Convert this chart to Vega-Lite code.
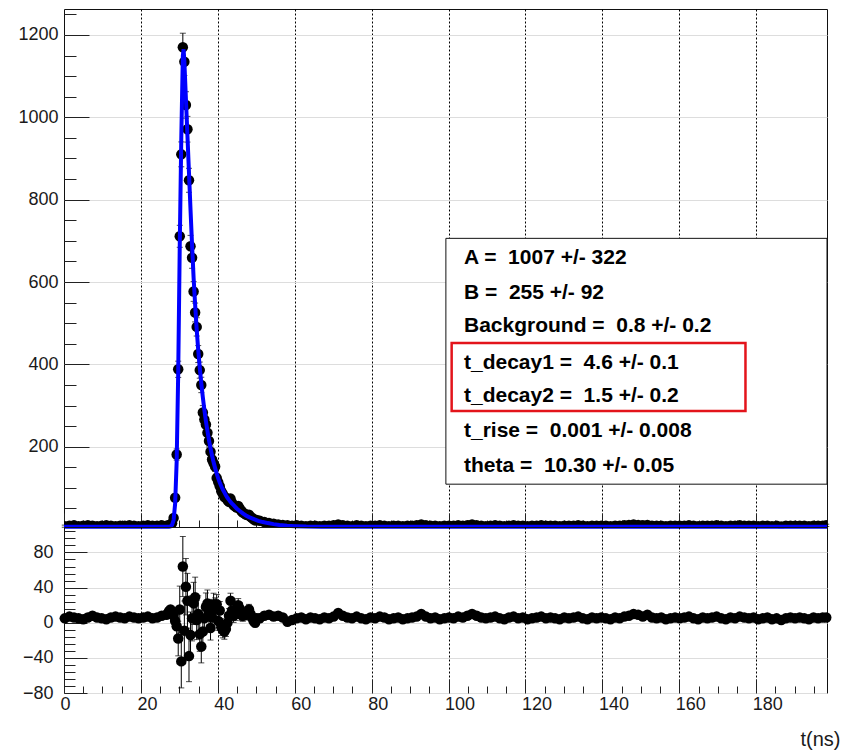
{
  "$schema": "https://vega.github.io/schema/vega-lite/v6.json",
  "background": "white",
  "padding": {"left": 17, "top": 8, "right": 0, "bottom": 0},
  "spacing": 0,
  "bounds": "flush",
  "config": {
    "view": {"stroke": "#111", "strokeWidth": 1},
    "font": "Liberation Sans",
    "axis": {"labelFont": "Liberation Sans", "labelFontSize": 18, "labelColor": "#1a1a1a", "tickColor": "#222", "tickWidth": 1, "domain": false, "labelOverlap": false, "labelFlush": false}
  },
  "datasets": {
    "pts": [
      {"t":0.2,"v":7,"e":2.6,"r":5},{"t":1.4,"v":8,"e":2.8,"r":7},{"t":2.6,"v":9,"e":3,"r":6},{"t":3.8,"v":7,"e":2.6,"r":5},
      {"t":5.0,"v":8,"e":2.8,"r":4},{"t":6.2,"v":9,"e":3,"r":6},{"t":7.4,"v":8,"e":2.8,"r":8},{"t":8.6,"v":7,"e":2.6,"r":6},
      {"t":9.8,"v":8,"e":2.8,"r":5},{"t":11.0,"v":9,"e":3,"r":4},{"t":12.2,"v":8,"e":2.8,"r":6},{"t":13.4,"v":7,"e":2.6,"r":7},
      {"t":14.6,"v":8,"e":2.8,"r":6},{"t":15.8,"v":8,"e":2.8,"r":5},{"t":17.0,"v":9,"e":3,"r":7},{"t":18.2,"v":8,"e":2.8,"r":6},
      {"t":19.4,"v":7,"e":2.6,"r":5},{"t":20.6,"v":8,"e":2.8,"r":6},{"t":21.8,"v":9,"e":3,"r":7},{"t":23.0,"v":8,"e":2.8,"r":5},
      {"t":24.2,"v":8,"e":2.8,"r":6},{"t":25.4,"v":9,"e":3,"r":8},{"t":26.6,"v":8,"e":2.8,"r":9},
      {"t":26.9,"v":8,"e":2.8,"r":10},{"t":27.3,"v":9,"e":3,"r":13},{"t":27.7,"v":11,"e":3.3,"r":15},{"t":28.1,"v":14,"e":3.7,"r":12},
      {"t":28.5,"v":27,"e":5.2,"r":8},{"t":28.9,"v":76,"e":8.7,"r":2},{"t":29.3,"v":181,"e":13.5,"r":-4},{"t":29.7,"v":388,"e":19.7,"r":-18},
      {"t":30.1,"v":711,"e":26.7,"r":15},{"t":30.5,"v":910,"e":30.2,"r":-44},{"t":30.9,"v":1170,"e":34.2,"r":64},{"t":31.3,"v":1135,"e":33.7,"r":-9},
      {"t":31.7,"v":1030,"e":32.1,"r":41},{"t":32.1,"v":971,"e":31.2,"r":25},{"t":32.5,"v":847,"e":29.1,"r":-38},{"t":32.9,"v":687,"e":26.2,"r":-14},
      {"t":33.3,"v":659,"e":25.7,"r":5},{"t":33.7,"v":577,"e":24,"r":22},{"t":34.1,"v":526,"e":22.9,"r":29},{"t":34.5,"v":491,"e":22.2,"r":3},
      {"t":34.9,"v":425,"e":20.6,"r":10},{"t":35.3,"v":386,"e":19.6,"r":-13},{"t":35.7,"v":350,"e":18.7,"r":-27},{"t":36.1,"v":283,"e":16.8,"r":-10},
      {"t":36.5,"v":266,"e":16.3,"r":5},{"t":36.9,"v":254,"e":15.9,"r":18},{"t":37.3,"v":234,"e":15.3,"r":22},{"t":37.7,"v":214,"e":14.6,"r":12},
      {"t":38.1,"v":188,"e":13.7,"r":-6},{"t":38.5,"v":169,"e":13,"r":6},{"t":38.9,"v":160,"e":12.6,"r":21},{"t":39.3,"v":152,"e":12.3,"r":16},
      {"t":39.7,"v":124,"e":11.1,"r":21},{"t":40.1,"v":114,"e":10.7,"r":2},{"t":40.5,"v":104,"e":10.2,"r":14},{"t":40.9,"v":92,"e":9.6,"r":-5},
      {"t":41.3,"v":85,"e":9.2,"r":-8},{"t":41.7,"v":78,"e":8.8,"r":-10},{"t":42.1,"v":76,"e":8.7,"r":-7},{"t":42.5,"v":70,"e":8.4,"r":0},
      {"t":42.9,"v":66,"e":8.1,"r":8},{"t":43.3,"v":74,"e":8.6,"r":25},{"t":43.7,"v":64,"e":8,"r":14},{"t":44.1,"v":58,"e":7.6,"r":8},
      {"t":44.5,"v":55,"e":7.4,"r":10},{"t":44.9,"v":52,"e":7.2,"r":12},{"t":45.3,"v":56,"e":7.5,"r":20},{"t":45.7,"v":50,"e":7.1,"r":16},
      {"t":46.1,"v":44,"e":6.6,"r":9},{"t":46.5,"v":40,"e":6.3,"r":8},{"t":46.9,"v":38,"e":6.2,"r":10},{"t":47.3,"v":35,"e":5.9,"r":9},
      {"t":47.7,"v":34,"e":5.8,"r":12},{"t":48.1,"v":35,"e":5.9,"r":15},{"t":48.5,"v":30,"e":5.5,"r":10},{"t":48.9,"v":27,"e":5.2,"r":6},
      {"t":49.3,"v":24,"e":4.9,"r":2},{"t":49.7,"v":21,"e":4.6,"r":0},{"t":50.1,"v":22,"e":4.7,"r":5},
      {"t":50.9,"v":20,"e":4.5,"r":5},{"t":52.1,"v":17,"e":4.1,"r":8},{"t":53.3,"v":15,"e":3.9,"r":9},{"t":54.5,"v":13,"e":3.6,"r":7},
      {"t":55.7,"v":11,"e":3.3,"r":8},{"t":56.9,"v":10,"e":3.2,"r":6},{"t":58.1,"v":9,"e":3,"r":1},{"t":59.3,"v":8,"e":2.8,"r":3},
      {"t":60.5,"v":9,"e":2.8,"r":5},{"t":61.7,"v":8,"e":2.8,"r":6},{"t":62.9,"v":7,"e":2.8,"r":4},{"t":64.1,"v":8,"e":2.8,"r":6},
      {"t":65.3,"v":8,"e":2.8,"r":5},{"t":66.5,"v":7,"e":2.8,"r":4},{"t":67.7,"v":8,"e":2.8,"r":6},{"t":68.9,"v":8,"e":2.8,"r":5},
      {"t":70.1,"v":9,"e":2.8,"r":7},{"t":71.3,"v":11,"e":2.8,"r":11},{"t":72.5,"v":9,"e":2.8,"r":8},{"t":73.7,"v":8,"e":2.8,"r":6},
      {"t":74.9,"v":7,"e":2.8,"r":5},{"t":76.1,"v":9,"e":2.8,"r":7},{"t":77.3,"v":8,"e":2.8,"r":5},{"t":78.5,"v":7,"e":2.8,"r":4},
      {"t":79.7,"v":8,"e":2.8,"r":6},{"t":80.9,"v":8,"e":2.8,"r":5},{"t":82.1,"v":9,"e":2.8,"r":7},{"t":83.3,"v":8,"e":2.8,"r":6},
      {"t":84.5,"v":7,"e":2.8,"r":4},{"t":85.7,"v":8,"e":2.8,"r":5},{"t":86.9,"v":8,"e":2.8,"r":6},{"t":88.1,"v":7,"e":2.8,"r":4},
      {"t":89.3,"v":8,"e":2.8,"r":5},{"t":90.5,"v":8,"e":2.8,"r":6},{"t":91.7,"v":9,"e":2.8,"r":7},{"t":92.9,"v":11,"e":2.8,"r":10},
      {"t":94.1,"v":9,"e":2.8,"r":7},{"t":95.3,"v":8,"e":2.8,"r":5},{"t":96.5,"v":8,"e":2.8,"r":6},{"t":97.7,"v":7,"e":2.8,"r":4},
      {"t":98.9,"v":8,"e":2.8,"r":5},{"t":100.1,"v":8,"e":2.8,"r":6},{"t":101.3,"v":8,"e":2.8,"r":5},{"t":102.5,"v":9,"e":2.8,"r":7},
      {"t":103.7,"v":8,"e":2.8,"r":6},{"t":104.9,"v":9,"e":2.8,"r":8},{"t":106.1,"v":11,"e":2.8,"r":10},{"t":107.3,"v":9,"e":2.8,"r":8},
      {"t":108.5,"v":8,"e":2.8,"r":6},{"t":109.7,"v":7,"e":2.8,"r":5},{"t":110.9,"v":8,"e":2.8,"r":6},{"t":112.1,"v":9,"e":2.8,"r":7},
      {"t":113.3,"v":8,"e":2.8,"r":5},{"t":114.5,"v":7,"e":2.8,"r":4},{"t":115.7,"v":8,"e":2.8,"r":6},{"t":116.9,"v":9,"e":2.8,"r":7},
      {"t":118.1,"v":8,"e":2.8,"r":5},{"t":119.3,"v":8,"e":2.8,"r":6},{"t":120.5,"v":7,"e":2.8,"r":4},{"t":121.7,"v":8,"e":2.8,"r":5},
      {"t":122.9,"v":8,"e":2.8,"r":6},{"t":124.1,"v":9,"e":2.8,"r":7},{"t":125.3,"v":8,"e":2.8,"r":5},{"t":126.5,"v":8,"e":2.8,"r":6},
      {"t":127.7,"v":8,"e":2.8,"r":5},{"t":128.9,"v":7,"e":2.8,"r":4},{"t":130.1,"v":8,"e":2.8,"r":6},{"t":131.3,"v":8,"e":2.8,"r":5},
      {"t":132.5,"v":8,"e":2.8,"r":6},{"t":133.7,"v":9,"e":2.8,"r":7},{"t":134.9,"v":8,"e":2.8,"r":5},{"t":136.1,"v":7,"e":2.8,"r":4},
      {"t":137.3,"v":8,"e":2.8,"r":6},{"t":138.5,"v":8,"e":2.8,"r":5},{"t":139.7,"v":8,"e":2.8,"r":6},{"t":140.9,"v":8,"e":2.8,"r":5},
      {"t":142.1,"v":7,"e":2.8,"r":4},{"t":143.3,"v":8,"e":2.8,"r":6},{"t":144.5,"v":8,"e":2.8,"r":5},{"t":145.7,"v":9,"e":2.8,"r":7},
      {"t":146.9,"v":10,"e":2.8,"r":8},{"t":148.1,"v":11,"e":2.8,"r":10},{"t":149.3,"v":10,"e":2.8,"r":9},{"t":150.5,"v":9,"e":2.8,"r":7},
      {"t":151.7,"v":10,"e":2.8,"r":9},{"t":152.9,"v":8,"e":2.8,"r":6},{"t":154.1,"v":8,"e":2.8,"r":5},{"t":155.3,"v":8,"e":2.8,"r":6},
      {"t":156.5,"v":7,"e":2.8,"r":4},{"t":157.7,"v":8,"e":2.8,"r":5},{"t":158.9,"v":8,"e":2.8,"r":6},{"t":160.1,"v":8,"e":2.8,"r":5},
      {"t":161.3,"v":8,"e":2.8,"r":6},{"t":162.5,"v":9,"e":2.8,"r":7},{"t":163.7,"v":8,"e":2.8,"r":5},{"t":164.9,"v":7,"e":2.8,"r":4},
      {"t":166.1,"v":8,"e":2.8,"r":6},{"t":167.3,"v":8,"e":2.8,"r":5},{"t":168.5,"v":8,"e":2.8,"r":6},{"t":169.7,"v":9,"e":2.8,"r":7},
      {"t":170.9,"v":8,"e":2.8,"r":5},{"t":172.1,"v":7,"e":2.8,"r":4},{"t":173.3,"v":8,"e":2.8,"r":6},{"t":174.5,"v":8,"e":2.8,"r":5},
      {"t":175.7,"v":9,"e":2.8,"r":7},{"t":176.9,"v":8,"e":2.8,"r":6},{"t":178.1,"v":8,"e":2.8,"r":5},{"t":179.3,"v":8,"e":2.8,"r":6},
      {"t":180.5,"v":7,"e":2.8,"r":4},{"t":181.7,"v":8,"e":2.8,"r":5},{"t":182.9,"v":8,"e":2.8,"r":6},{"t":184.1,"v":7,"e":2.8,"r":4},
      {"t":185.3,"v":8,"e":2.8,"r":5},{"t":186.5,"v":6,"e":2.8,"r":3},{"t":187.7,"v":8,"e":2.8,"r":5},{"t":188.9,"v":8,"e":2.8,"r":6},
      {"t":190.1,"v":8,"e":2.8,"r":5},{"t":191.3,"v":8,"e":2.8,"r":6},{"t":192.5,"v":8,"e":2.8,"r":5},{"t":193.7,"v":7,"e":2.8,"r":4},
      {"t":194.9,"v":8,"e":2.8,"r":6},{"t":196.1,"v":8,"e":2.8,"r":5},{"t":197.3,"v":8,"e":2.8,"r":6},{"t":198.2,"v":9,"e":2.8,"r":6}
    ],
    "fit": [
      {"t":0,"f":5.5},{"t":26.9,"f":5.5},{"t":27.3,"f":5.6},{"t":27.7,"f":6.5},{"t":28.1,"f":10},{"t":28.5,"f":22},{"t":28.9,"f":62},
      {"t":29.3,"f":165},{"t":29.7,"f":380},{"t":30.1,"f":690},{"t":30.5,"f":950},{"t":30.9,"f":1150},{"t":31.1,"f":1165},{"t":31.3,"f":1135},
      {"t":31.7,"f":1045},{"t":32.1,"f":955},{"t":32.5,"f":865},{"t":32.9,"f":775},{"t":33.3,"f":690},{"t":33.7,"f":610},{"t":34.1,"f":545},
      {"t":34.5,"f":485},{"t":34.9,"f":435},{"t":35.3,"f":392},{"t":35.7,"f":354},{"t":36.1,"f":320},{"t":36.5,"f":290},{"t":36.9,"f":262},
      {"t":37.3,"f":238},{"t":37.7,"f":216},{"t":38.1,"f":196},{"t":38.5,"f":178},{"t":38.9,"f":162},{"t":39.3,"f":148},{"t":39.7,"f":135},
      {"t":40.1,"f":123},{"t":40.5,"f":113},{"t":40.9,"f":104},{"t":41.3,"f":96},{"t":41.7,"f":89},{"t":42.1,"f":82},{"t":42.5,"f":76},
      {"t":42.9,"f":71},{"t":43.3,"f":66},{"t":43.7,"f":62},{"t":44.1,"f":58},{"t":44.5,"f":54},{"t":44.9,"f":50},{"t":45.7,"f":44},
      {"t":46.5,"f":38},{"t":47.3,"f":33},{"t":48.1,"f":29},{"t":48.9,"f":26},{"t":49.7,"f":23},{"t":50.5,"f":20},{"t":51.7,"f":17},
      {"t":53,"f":14.5},{"t":54.5,"f":12},{"t":56,"f":10},{"t":58,"f":8},{"t":60,"f":7},{"t":63,"f":6},{"t":67,"f":5.5},{"t":198.4,"f":5.5}
    ],
    "par": [
      {"label":"A = \u00a01007 +/- 322","v":659},
      {"label":"B = \u00a0255 +/- 92","v":574},
      {"label":"Background = \u00a00.8 +/- 0.2","v":494},
      {"label":"t_decay1 = \u00a04.6 +/- 0.1","v":404},
      {"label":"t_decay2 = \u00a01.5 +/- 0.2","v":323},
      {"label":"t_rise = \u00a00.001 +/- 0.008","v":238},
      {"label":"theta = \u00a010.30 +/- 0.05","v":153}
    ]
  },
  "vconcat": [
    {
      "width": 763,
      "height": 518,
      "resolve": {"axis": {"x": "independent", "y": "independent"}},
      "layer": [
        {
          "data": {"name": "pts"},
          "mark": {"type": "errorbar", "color": "black", "thickness": 1, "ticks": {"size": 6, "color": "black"}},
          "encoding": {
            "x": {"field": "t", "type": "quantitative", "scale": {"domain": [0, 198.4], "nice": false, "zero": false},
                  "axis": {"orient": "bottom", "values": [20,40,60,80,100,120,140,160,180], "grid": true, "gridDash": [2,2], "gridColor": "#000", "gridOpacity": 1, "ticks": false, "labels": false, "title": null}},
            "y": {"field": "v", "type": "quantitative", "scale": {"domain": [5, 1263], "nice": false, "zero": false},
                  "axis": {"orient": "left", "values": [200,400,600,800,1000,1200], "format": "d", "tickSize": -25, "labelPadding": 31, "title": null}},
            "yError": {"field": "e"}
          }
        },
        {
          "data": {"name": "pts"},
          "mark": {"type": "circle", "size": 110, "color": "black", "opacity": 1, "clip": true},
          "encoding": {
            "x": {"field": "t", "type": "quantitative",
                  "axis": {"orient": "bottom", "values": [0,20,40,60,80,100,120,140,160,180], "tickSize": -14, "labels": false, "title": null}},
            "y": {"field": "v", "type": "quantitative",
                  "axis": {"orient": "left", "values": [50,100,150,200,250,300,350,400,450,500,550,600,650,700,750,800,850,900,950,1000,1050,1100,1150,1200,1250], "tickSize": -12, "labels": false, "title": null}}
          }
        },
        {
          "data": {"name": "fit"},
          "mark": {"type": "line", "color": "#0000ff", "strokeWidth": 4, "interpolate": "linear"},
          "encoding": {
            "x": {"field": "t", "type": "quantitative",
                  "axis": {"orient": "bottom", "values": [5,10,15,25,30,35,45,50,55,65,70,75,85,90,95,105,110,115,125,130,135,145,150,155,165,170,175,185,190,195], "tickSize": -7, "labels": false, "title": null}},
            "y": {"field": "f", "type": "quantitative", "axis": null}
          }
        },
        {
          "data": {"values": [{}]},
          "mark": {"type": "rect", "fill": "white", "stroke": "#111", "strokeWidth": 1},
          "encoding": {
            "x": {"datum": 99.3, "type": "quantitative", "axis": null},
            "x2": {"datum": 198.4},
            "y": {"datum": 109, "type": "quantitative", "axis": null},
            "y2": {"datum": 706}
          }
        },
        {
          "data": {"values": [{}]},
          "mark": {"type": "rect", "fill": "white", "fillOpacity": 0, "stroke": "#e3141b", "strokeWidth": 2.5},
          "encoding": {
            "x": {"datum": 100.8, "type": "quantitative", "axis": null},
            "x2": {"datum": 177.2},
            "y": {"datum": 287, "type": "quantitative", "axis": null},
            "y2": {"datum": 452}
          }
        },
        {
          "data": {"name": "par"},
          "mark": {"type": "text", "align": "left", "baseline": "middle", "font": "Liberation Sans", "fontWeight": "bold", "fontSize": 21, "color": "black"},
          "encoding": {
            "x": {"datum": 104, "type": "quantitative", "axis": null},
            "y": {"field": "v", "type": "quantitative", "axis": null},
            "text": {"field": "label"}
          }
        }
      ]
    },
    {
      "width": 763,
      "height": 166,
      "resolve": {"axis": {"x": "independent", "y": "independent"}},
      "layer": [
        {
          "data": {"name": "pts"},
          "mark": {"type": "errorbar", "color": "black", "thickness": 1, "ticks": {"size": 6, "color": "black"}},
          "encoding": {
            "x": {"field": "t", "type": "quantitative", "scale": {"domain": [0, 198.4], "nice": false, "zero": false},
                  "axis": {"orient": "bottom", "values": [20,40,60,80,100,120,140,160,180], "grid": true, "gridDash": [2,2], "gridColor": "#000", "gridOpacity": 1, "ticks": false, "labels": false, "title": null}},
            "y": {"field": "r", "type": "quantitative", "scale": {"domain": [-80, 109], "nice": false, "zero": false},
                  "axis": {"orient": "left", "values": [-80,-40,0,40,80], "tickSize": -23, "labelPadding": 34, "title": null}},
            "yError": {"field": "e"}
          }
        },
        {
          "data": {"name": "pts"},
          "mark": {"type": "circle", "size": 110, "color": "black", "opacity": 1},
          "encoding": {
            "x": {"field": "t", "type": "quantitative",
                  "axis": {"orient": "bottom", "values": [0,20,40,60,80,100,120,140,160,180], "tickSize": -14, "labelPadding": 16, "labelAlign": "left", "labelOffset": -4,
                           "title": "t(ns)", "titleFont": "Liberation Sans", "titleFontSize": 20, "titleFontWeight": "normal", "titleColor": "#1a1a1a",
                           "titleAnchor": "end", "titleAlign": "right", "titleBaseline": "middle", "titleX": 776, "titleY": 46}},
            "y": {"field": "r", "type": "quantitative",
                  "axis": {"orient": "left", "values": [-72,-64,-56,-48,-40,-32,-24,-16,-8,0,8,16,24,32,40,48,56,64,72,80,88,96,104], "tickSize": -11, "labels": false, "title": null}}
          }
        },
        {
          "data": {"name": "pts"},
          "mark": {"type": "circle", "size": 1, "opacity": 0},
          "encoding": {
            "x": {"field": "t", "type": "quantitative",
                  "axis": {"orient": "bottom", "values": [5,10,15,25,30,35,45,50,55,65,70,75,85,90,95,105,110,115,125,130,135,145,150,155,165,170,175,185,190,195], "tickSize": -7, "labels": false, "title": null}},
            "y": {"field": "r", "type": "quantitative", "axis": null}
          }
        }
      ]
    }
  ]
}
